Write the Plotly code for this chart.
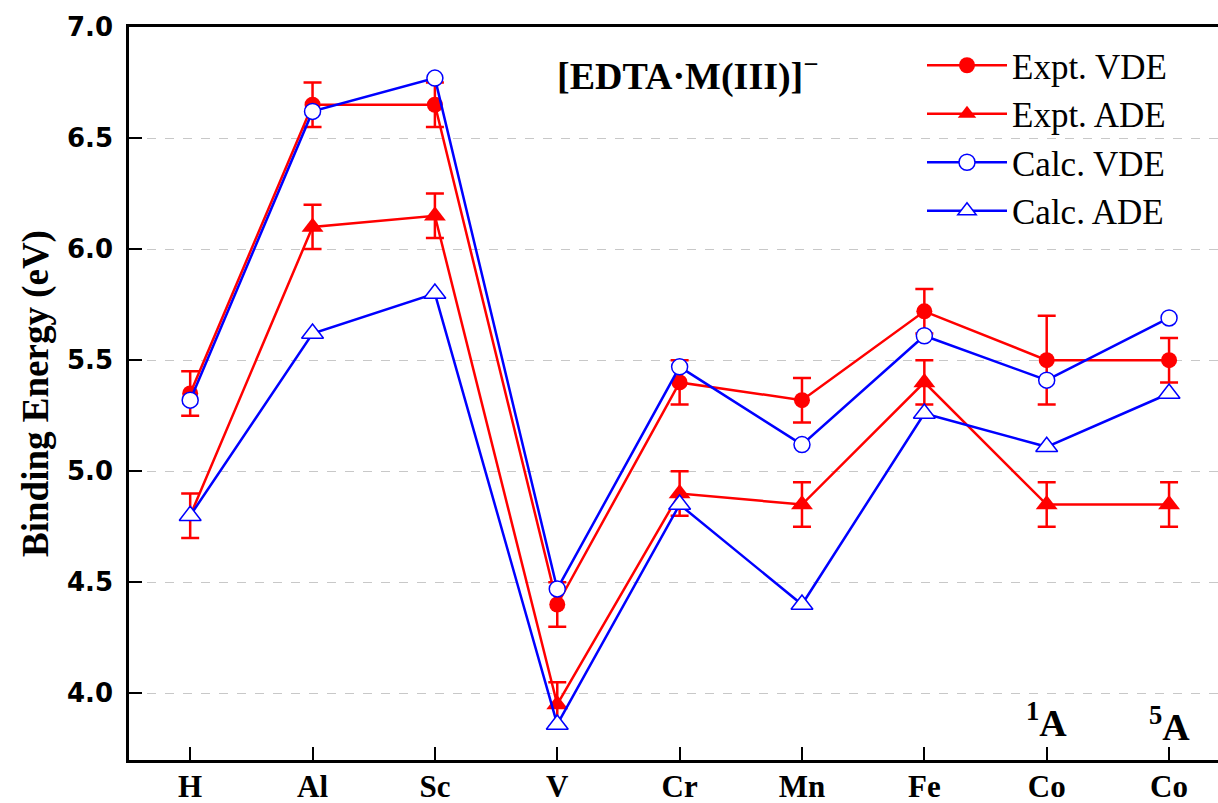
import plotly.graph_objects as go

categories = ["H", "Al", "Sc", "V", "Cr", "Mn", "Fe", "Co", "Co"]
positions = list(range(len(categories)))

expt_vde = [5.35, 6.65, 6.65, 4.40, 5.40, 5.32, 5.72, 5.50, 5.50]
expt_vde_err = [0.10, 0.10, 0.10, 0.10, 0.10, 0.10, 0.10, 0.20, 0.10]
expt_ade = [4.80, 6.10, 6.15, 3.95, 4.90, 4.85, 5.40, 4.85, 4.85]
expt_ade_err = [0.10, 0.10, 0.10, 0.10, 0.10, 0.10, 0.10, 0.10, 0.10]
calc_vde = [5.32, 6.62, 6.77, 4.47, 5.47, 5.12, 5.61, 5.41, 5.69]
calc_ade = [4.80, 5.62, 5.80, 3.86, 4.85, 4.40, 5.26, 5.11, 5.35]

y_ticks = [4.0, 4.5, 5.0, 5.5, 6.0, 6.5, 7.0]

RED = "#FF0000"
BLUE = "#0000FF"

fig = go.Figure()

fig.add_trace(go.Scatter(
    x=positions, y=expt_vde, name="Expt. VDE", mode="lines+markers",
    line=dict(color=RED, width=2.5),
    marker=dict(symbol="circle", size=16, color=RED),
    error_y=dict(type="data", array=expt_vde_err, visible=True, color=RED, thickness=2.5, width=9),
))
fig.add_trace(go.Scatter(
    x=positions, y=expt_ade, name="Expt. ADE", mode="lines+markers",
    line=dict(color=RED, width=2.5),
    marker=dict(symbol="triangle-up", size=19, color=RED),
    error_y=dict(type="data", array=expt_ade_err, visible=True, color=RED, thickness=2.5, width=9),
))
fig.add_trace(go.Scatter(
    x=positions, y=calc_vde, name="Calc. VDE", mode="lines+markers",
    line=dict(color=BLUE, width=2.5),
    marker=dict(symbol="circle", size=16, color="white", line=dict(color=BLUE, width=1.5)),
))
fig.add_trace(go.Scatter(
    x=positions, y=calc_ade, name="Calc. ADE", mode="lines+markers",
    line=dict(color=BLUE, width=2.5),
    marker=dict(symbol="triangle-up", size=19, color="white", line=dict(color=BLUE, width=1.5)),
))

fig.add_annotation(
    x=(687 - 129) / 1089, xref="paper", y=1 - (73 - 27) / 733, yref="paper",
    yanchor="middle", xanchor="center",
    text="<b>[EDTA·M(III)]<sup>−</sup></b>", showarrow=False,
    font=dict(family="Liberation Serif", size=38, color="black"),
)
fig.add_annotation(
    x=7, y=3.88, xref="x", yref="y", text="<b><sup>1</sup>A</b>", showarrow=False,
    font=dict(family="Liberation Serif", size=38, color="black"), xanchor="center", yanchor="middle",
)
fig.add_annotation(
    x=8, y=3.86, xref="x", yref="y", text="<b><sup>5</sup>A</b>", showarrow=False,
    font=dict(family="Liberation Serif", size=38, color="black"), xanchor="center", yanchor="middle",
)

fig.update_layout(
    width=1218, height=803,
    margin=dict(l=129, r=0, t=27, b=43, autoexpand=False),
    plot_bgcolor="white", paper_bgcolor="white",
    showlegend=True,
    legend=dict(
        x=(922 - 129) / 1089, y=1 - (36 - 27) / 733, xanchor="left", yanchor="top",
        bgcolor="rgba(0,0,0,0)", borderwidth=0,
        font=dict(family="Liberation Serif", size=35, color="black"),
        itemwidth=80, tracegroupgap=0,
    ),
    xaxis=dict(
        range=[-0.5, 8.4], tickmode="array", tickvals=positions,
        ticktext=["<b>%s</b>" % c for c in categories],
        tickfont=dict(family="Liberation Serif", size=31, color="black"),
        ticks="inside", ticklen=13, tickwidth=2, tickcolor="black",
        ticklabelstandoff=-3,
        showline=True, linecolor="black", linewidth=2.5, mirror=True,
        showgrid=False, zeroline=False,
    ),
    yaxis=dict(
        range=[3.7, 7.0], tickmode="array", tickvals=y_ticks,
        ticktext=["<b>%.1f</b>" % v for v in y_ticks],
        tickfont=dict(family="DejaVu Sans", size=26, color="black"),
        ticks="inside", ticklen=13, tickwidth=2, tickcolor="black",
        ticklabelstandoff=8,
        showline=True, linecolor="black", linewidth=2.5, mirror=False,
        showgrid=True, gridcolor="#c8c8c8", griddash="dash", gridwidth=1,
        zeroline=False,
        title=dict(text="<b>Binding Energy (eV)</b>",
                   font=dict(family="Liberation Serif", size=37, color="black"), standoff=8),
    ),
)

fig.write_html("out.html")
